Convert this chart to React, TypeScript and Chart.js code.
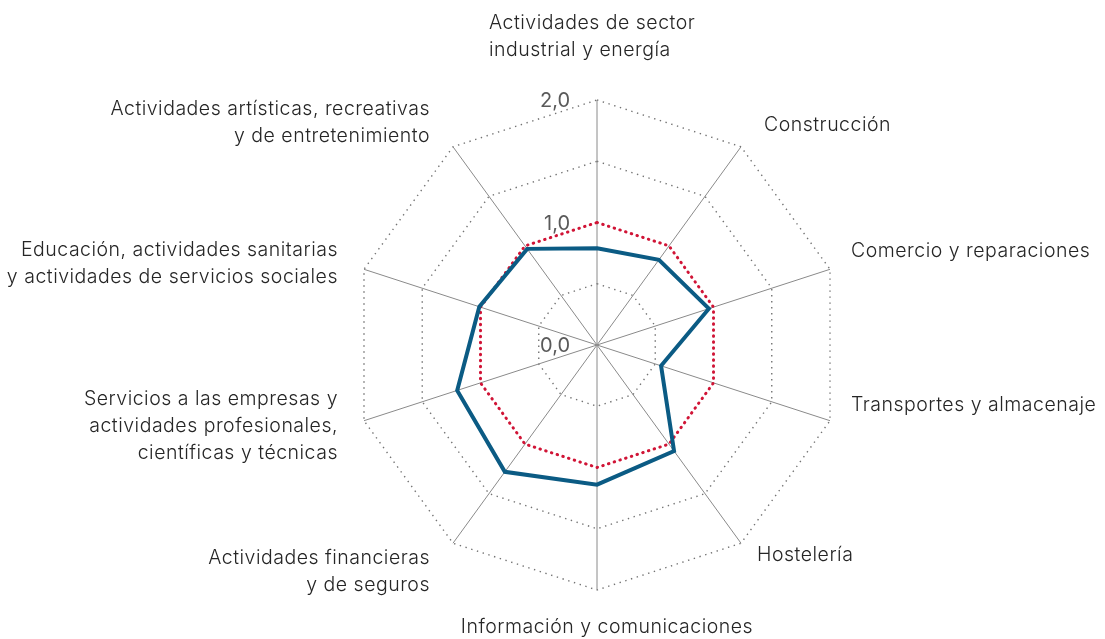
import React, { useEffect, useRef } from "react";
import { Chart, registerables } from "chart.js";

Chart.register(...registerables);

const CATEGORIES: (string | string[])[] = [
  ["Actividades de sector", "industrial y energía"],
  "Construcción",
  "Comercio y reparaciones",
  "Transportes y almacenaje",
  "Hostelería",
  "Información y comunicaciones",
  ["Actividades financieras", "y de seguros"],
  ["Servicios a las empresas y", "actividades profesionales,", "científicas y técnicas"],
  ["Educación, actividades sanitarias", "y actividades de servicios sociales"],
  ["Actividades artísticas, recreativas", "y de entretenimiento"],
];

const SERIES_MAIN = [0.79, 0.86, 0.96, 0.55, 1.07, 1.14, 1.28, 1.2, 1.01, 0.97];
const SERIES_REF = [1, 1, 1, 1, 1, 1, 1, 1, 1, 1];

const TICK_VALUES = [0, 1, 2];
const TICK_LABELS = ["0,0", "1,0", "2,0"];

// label placement relative to the outer vertex of each axis
const LABEL_LAYOUT: { align: CanvasTextAlign; dx: number; dy: number }[] = [
  { align: "left", dx: -108, dy: -63 },
  { align: "left", dx: 23, dy: -22 },
  { align: "left", dx: 21, dy: -18 },
  { align: "left", dx: 21, dy: -16 },
  { align: "left", dx: 16, dy: 12 },
  { align: "center", dx: 10, dy: 37 },
  { align: "right", dx: -23, dy: 28 },
  { align: "right", dx: -26, dy: 5 },
  { align: "right", dx: -26, dy: -6 },
  { align: "right", dx: -23, dy: -24 },
];

const FONT_FAMILY = 'Inter, "Open Sans", "DejaVu Sans", sans-serif';

const labelPlugin = {
  id: "customRadarLabels",
  afterDraw(chart: any) {
    const scale = chart.scales.r;
    const ctx: any = chart.ctx;
    ctx.save();
    ctx.font = `400 20px ${FONT_FAMILY}`;
    ctx.fillStyle = "#5a5a5a";
    ctx.textAlign = "right";
    ctx.textBaseline = "middle";
    TICK_VALUES.forEach((v, i) => {
      const d = scale.getDistanceFromCenterForValue(v);
      ctx.fillText(TICK_LABELS[i], scale.xCenter - 27, scale.yCenter - d + 1);
    });

    const R = scale.getDistanceFromCenterForValue(scale.max);
    ctx.font = `300 19.5px ${FONT_FAMILY}`;
    ctx.letterSpacing = "0.5px";
    ctx.fillStyle = "#262626";
    const lh = 27;
    CATEGORIES.forEach((lab, i) => {
      const p = scale.getPointPosition(i, R);
      const lines = Array.isArray(lab) ? lab : [lab];
      const L = LABEL_LAYOUT[i];
      const x = p.x + L.dx;
      const midY = p.y + L.dy;
      const top = midY - ((lines.length - 1) * lh) / 2;
      ctx.textAlign = L.align;
      lines.forEach((ln, j) => ctx.fillText(ln, x, top + j * lh));
    });
    ctx.restore();
  },
};

export default function App() {
  const ref = useRef<HTMLCanvasElement | null>(null);
  useEffect(() => {
    if (!ref.current) return;
    const chart = new Chart(ref.current, {
      type: "radar",
      data: {
        labels: CATEGORIES as any,
        datasets: [
          {
            data: SERIES_MAIN,
            borderColor: "#0b5b84",
            borderWidth: 4,
            borderJoinStyle: "miter",
            fill: false,
            pointRadius: 0,
          },
          {
            data: SERIES_REF,
            borderColor: "#d11436",
            borderWidth: 3,
            borderDash: [0.5, 5.5],
            borderCapStyle: "round",
            fill: false,
            pointRadius: 0,
          },
        ],
      },
      options: {
        animation: false,
        responsive: true,
        maintainAspectRatio: false,
        layout: { padding: { left: 352, right: 263, top: 100, bottom: 49 } },
        plugins: { legend: { display: false }, tooltip: { enabled: false } },
        elements: { line: { tension: 0 } },
        scales: {
          r: {
            min: 0,
            max: 2,
            ticks: { stepSize: 0.5, display: false },
            pointLabels: { display: false },
            grid: { color: "#737373", lineWidth: 1.4 },
            border: { dash: [1.4, 4.6] } as any,
            angleLines: { color: "#8a8a8a", lineWidth: 1 },
          },
        },
      },
      plugins: [labelPlugin],
    });
    return () => chart.destroy();
  }, []);
  return (
    <div style={{ position: "absolute", left: 0, top: 0, width: "1105px", height: "639px" }}>
      <canvas ref={ref} />
    </div>
  );
}
